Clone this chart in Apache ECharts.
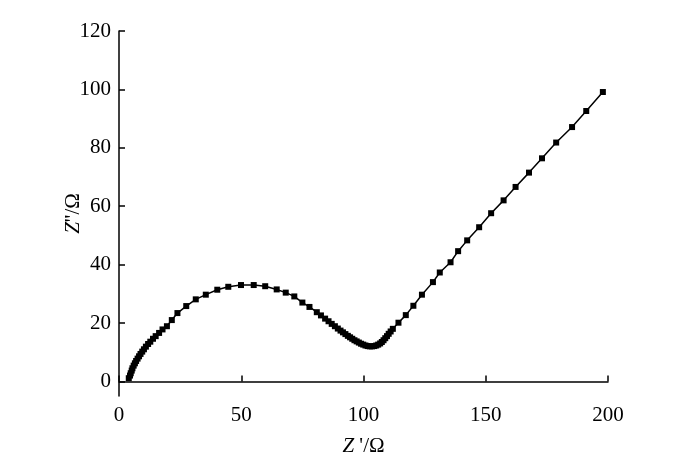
<!DOCTYPE html>
<html>
<head>
<meta charset="utf-8">
<script src="https://cdn.jsdelivr.net/npm/echarts@6/dist/echarts.min.js"></script>
<style>
  html, body { margin: 0; padding: 0; background: #fff; }
  #chart { width: 677px; height: 475px; }
</style>
</head>
<body>
<div id="chart"></div>
<script>
const zReal = [
  4.0, 4.5, 4.8, 5.2, 5.5, 6.0, 6.5, 7.0, 7.6, 8.2, 8.8, 9.5, 10.2, 11.0, 11.9, 12.8,
  13.9, 15.0, 16.4, 17.8, 19.6, 21.6, 23.9, 27.5, 31.4, 35.5, 40.2, 44.7, 49.9, 55.1,
  59.8, 64.5, 68.2, 71.7, 75.0, 77.9, 80.9, 82.6, 84.3, 85.7, 87.0, 88.3, 89.5, 90.6,
  91.6, 92.6, 93.6, 94.5, 95.4, 96.3, 97.2, 98.1, 99.0, 99.9, 100.8, 101.7, 102.6, 103.5,
  104.4, 105.2, 106.0, 106.8, 107.5, 108.2, 108.9, 109.6, 110.3, 111.1, 112.0, 114.3,
  117.3, 120.4, 123.9, 128.4, 131.2, 135.6, 138.7, 142.4, 147.3, 152.2, 157.3, 162.2,
  167.7, 173.0, 178.8, 185.3, 191.1, 197.9
];
// -Z'' (imaginary part, Ω)
const zImag = [
  1.1, 2.0, 2.8, 3.7, 4.5, 5.4, 6.2, 7.0, 7.8, 8.6, 9.4, 10.2, 11.0, 11.9, 12.8, 13.6,
  14.6, 15.5, 16.6, 17.8, 18.9, 21.0, 23.4, 25.8, 28.1, 29.7, 31.4, 32.4, 33.0, 33.0,
  32.6, 31.5, 30.4, 29.1, 27.0, 25.5, 23.7, 22.6, 21.5, 20.6, 19.7, 18.9, 18.1, 17.4,
  16.8, 16.2, 15.6, 15.1, 14.6, 14.1, 13.7, 13.3, 12.9, 12.6, 12.3, 12.1, 12.0, 12.0,
  12.1, 12.3, 12.6, 13.0, 13.5, 14.1, 14.8, 15.5, 16.3, 17.1, 18.0, 20.1,
  22.7, 25.9, 29.7, 34.0, 37.3, 40.8, 44.6, 48.3, 52.8, 57.6, 62.0, 66.6,
  71.5, 76.4, 81.8, 87.1, 92.6, 99.1
];
const xTicks = [0, 50, 100, 150, 200];
const yTicks = [0, 20, 40, 60, 80, 100, 120];

const points = zReal.map((x, i) => [x, zImag[i]]);

const font = '"Liberation Serif", "DejaVu Serif", serif';
const axisCommon = {
  axisLine: { show: true, lineStyle: { color: '#000', width: 1.5 } },
  axisTick: { show: true, inside: true, length: 6, lineStyle: { color: '#000', width: 1.5 } },
  splitLine: { show: false },
  nameMoveOverlap: false,
  nameTextStyle: {
    fontFamily: font, fontSize: 21, color: '#000',
    rich: { i: { fontFamily: font, fontSize: 21, fontStyle: 'italic', color: '#000' } }
  }
};

const chart = echarts.init(document.getElementById('chart'));
chart.setOption({
  backgroundColor: '#fff',
  animation: false,
  grid: { left: 119, right: 69, top: 31, bottom: 79 },
  xAxis: {
    ...axisCommon,
    type: 'value',
    min: 0,
    max: 200,
    interval: 50,
    axisTick: { ...axisCommon.axisTick, customValues: xTicks },
    axisLabel: { customValues: xTicks, fontFamily: font, fontSize: 21, color: '#000', margin: 9 },
    name: '{i|Z} \'/Ω',
    nameLocation: 'middle',
    nameGap: 40
  },
  yAxis: {
    ...axisCommon,
    type: 'value',
    min: -5,
    max: 120,
    axisTick: { ...axisCommon.axisTick, customValues: yTicks },
    axisLabel: { customValues: yTicks, fontFamily: font, fontSize: 21, color: '#000', margin: 8 },
    name: '{i|Z}\'\'/Ω',
    nameLocation: 'middle',
    nameRotate: 90,
    nameGap: 35
  },
  series: [{
    type: 'line',
    data: points,
    symbol: 'rect',
    symbolSize: 6,
    showAllSymbol: true,
    lineStyle: { color: '#000', width: 1.5 },
    itemStyle: { color: '#000' }
  }]
});
</script>
</body>
</html>
